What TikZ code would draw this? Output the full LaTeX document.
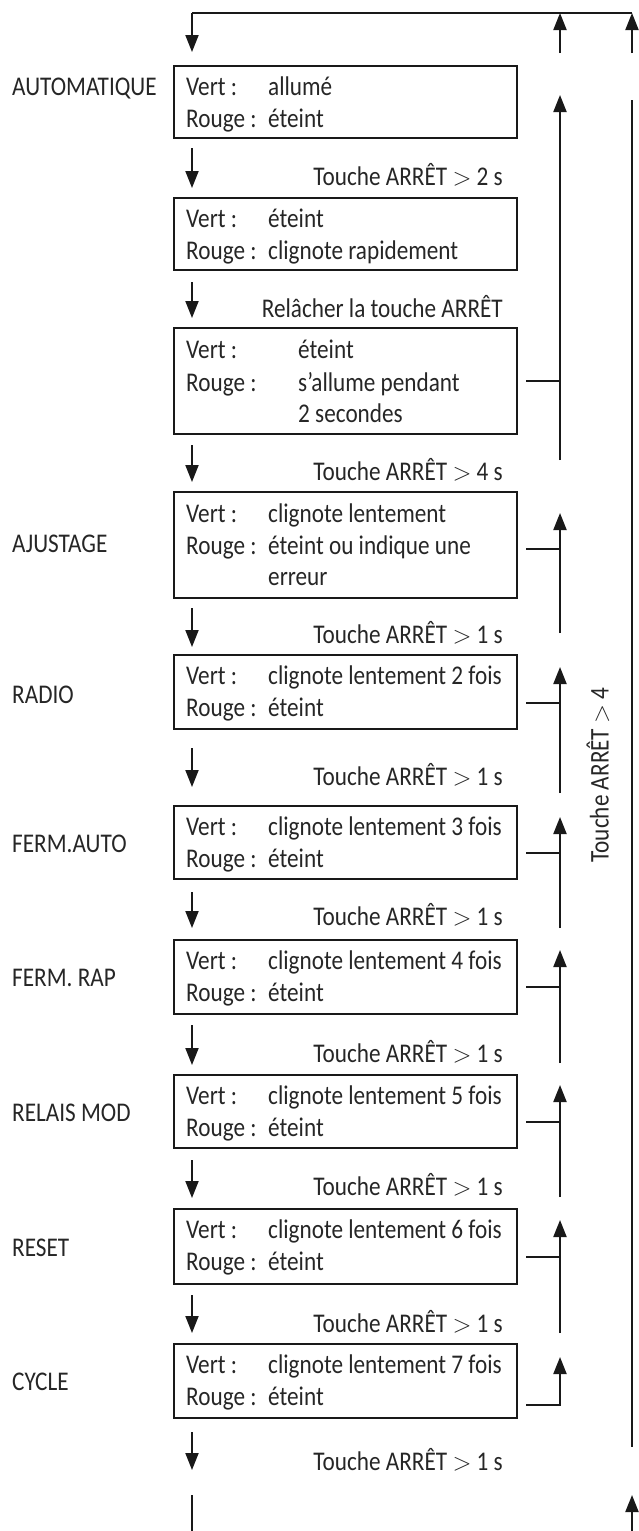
\documentclass[tikz,border=0pt]{standalone}
\usepackage{fontspec}
\setmainfont{Carlito}[FakeStretch=0.86]
\usetikzlibrary{arrows.meta}
\newcommand{\gtsym}{\ensuremath{>}}
\begin{document}
\begin{tikzpicture}[x=1pt,y=-1pt,
  ln/.style={line width=2pt,color=black!90},
  arr/.style={line width=2pt,color=black!90,-{Triangle[width=13pt,length=17pt]}},
  box/.style={draw=black!90,line width=2pt,minimum width=343pt,inner sep=0pt,anchor=north west},
  txt/.style={anchor=base west,inner sep=0pt,text=black!85,font=\fontsize{27}{30}\selectfont},
  lbl/.style={anchor=base east,inner sep=0pt,text=black!85,font=\fontsize{27}{30}\selectfont},
  side/.style={anchor=base west,inner sep=0pt,text=black!85,font=\fontsize{27}{30}\selectfont}
]
\useasboundingbox (0,0) rectangle (638,1531);

% ---------- boxes ----------
\node[box,minimum height=72pt] (b1) at (173,65) {};
\node[box,minimum height=72pt] (b2) at (173,197) {};
\node[box,minimum height=106pt] (b3) at (173,327) {};
\node[box,minimum height=106pt] (b4) at (173,491) {};
\node[box,minimum height=74pt] (b5) at (173,654) {};
\node[box,minimum height=73pt] (b6) at (173,805) {};
\node[box,minimum height=74pt] (b7) at (173,939) {};
\node[box,minimum height=73pt] (b8) at (173,1074) {};
\node[box,minimum height=75pt] (b9) at (173,1208) {};
\node[box,minimum height=74pt] (b10) at (173,1343) {};

% ---------- box texts ----------
\node[txt] (b1a) at (186,95) {Vert :};   \node[txt] (b1b) at (268,95) {allumé};
\node[txt] (b1c) at (186,127) {Rouge :}; \node[txt] (b1d) at (268,127) {éteint};

\node[txt] (b2a) at (186,227) {Vert :};   \node[txt] (b2b) at (268,227) {éteint};
\node[txt] (b2c) at (186,259) {Rouge :}; \node[txt] (b2d) at (268,259) {clignote rapidement};

\node[txt] (b3a) at (186,358) {Vert :};   \node[txt] (b3b) at (298,358) {éteint};
\node[txt] (b3c) at (186,391) {Rouge :}; \node[txt] (b3d) at (298,391) {s’allume pendant};
\node[txt] (b3e) at (298,422) {2 secondes};

\node[txt] (b4a) at (186,522) {Vert :};   \node[txt] (b4b) at (268,522) {clignote lentement};
\node[txt] (b4c) at (186,554) {Rouge :}; \node[txt] (b4d) at (268,554) {éteint ou indique une};
\node[txt] (b4e) at (268,585) {erreur};

\node[txt] (b5a) at (186,684) {Vert :};   \node[txt] (b5b) at (268,684) {clignote lentement 2 fois};
\node[txt] (b5c) at (186,716) {Rouge :}; \node[txt] (b5d) at (268,716) {éteint};

\node[txt] (b6a) at (186,835) {Vert :};   \node[txt] (b6b) at (268,835) {clignote lentement 3 fois};
\node[txt] (b6c) at (186,867) {Rouge :}; \node[txt] (b6d) at (268,867) {éteint};

\node[txt] (b7a) at (186,969) {Vert :};   \node[txt] (b7b) at (268,969) {clignote lentement 4 fois};
\node[txt] (b7c) at (186,1001) {Rouge :}; \node[txt] (b7d) at (268,1001) {éteint};

\node[txt] (b8a) at (186,1104) {Vert :};   \node[txt] (b8b) at (268,1104) {clignote lentement 5 fois};
\node[txt] (b8c) at (186,1136) {Rouge :}; \node[txt] (b8d) at (268,1136) {éteint};

\node[txt] (b9a) at (186,1238) {Vert :};   \node[txt] (b9b) at (268,1238) {clignote lentement 6 fois};
\node[txt] (b9c) at (186,1270) {Rouge :}; \node[txt] (b9d) at (268,1270) {éteint};

\node[txt] (b10a) at (186,1373) {Vert :};   \node[txt] (b10b) at (268,1373) {clignote lentement 7 fois};
\node[txt] (b10c) at (186,1405) {Rouge :}; \node[txt] (b10d) at (268,1405) {éteint};

% ---------- side labels ----------
\node[side] (s1) at (12,95) {AUTOMATIQUE};
\node[side] (s4) at (12,552) {AJUSTAGE};
\node[side] (s5) at (12,703) {RADIO};
\node[side] (s6) at (12,852) {FERM.AUTO};
\node[side] (s7) at (12,986) {FERM. RAP};
\node[side] (s8) at (12,1121) {RELAIS MOD};
\node[side] (s9) at (12,1256) {RESET};
\node[side] (s10) at (12,1390) {CYCLE};

% ---------- transition labels ----------
\node[lbl] (t2) at (503,185) {Touche ARRÊT \gtsym{} 2 s};
\node[lbl] (t3) at (503,317) {Relâcher la touche ARRÊT};
\node[lbl] (t4) at (503,480) {Touche ARRÊT \gtsym{} 4 s};
\node[lbl] (t5) at (503,643) {Touche ARRÊT \gtsym{} 1 s};
\node[lbl] (t6) at (503,785) {Touche ARRÊT \gtsym{} 1 s};
\node[lbl] (t7) at (503,925) {Touche ARRÊT \gtsym{} 1 s};
\node[lbl] (t8) at (503,1062) {Touche ARRÊT \gtsym{} 1 s};
\node[lbl] (t9) at (503,1195) {Touche ARRÊT \gtsym{} 1 s};
\node[lbl] (t10) at (503,1332) {Touche ARRÊT \gtsym{} 1 s};
\node[lbl] (t11) at (503,1470) {Touche ARRÊT \gtsym{} 1 s};
\node[inner sep=0pt,text=black!85,font=\fontsize{27}{30}\selectfont,rotate=90] (t4r) at (598,775) {Touche ARRÊT \gtsym{} 4};

% ---------- top return ----------
\coordinate (tl) at (192,13);
\coordinate (tm) at (560,13);
\coordinate (tr) at (632,13);
\coordinate (tld) at (192,52);
\coordinate (tmu) at (560,53);
\coordinate (tru) at (632,53);
\draw[ln] (tl) -- (tr);
\draw[arr] (tl) -- (tld);
\draw[arr] (tmu) -- (tm);
\draw[arr] (tru) -- (tr);

% ---------- down arrows ----------
\foreach \n/\ys/\ye in {d1/148/188, d2/282/318, d3/445/482, d4/608/647, d5/748/787, d6/892/928, d7/1025/1065, d8/1160/1198, d9/1295/1333, d10/1432/1470}{
  \coordinate (\n s) at (192,\ys);
  \coordinate (\n e) at (192,\ye);
  \draw[arr] (\n s) -- (\n e);
}
\coordinate (cbs) at (192,1495);
\coordinate (cbe) at (192,1533);
\draw[ln] (cbs) -- (cbe);

% ---------- return paths (middle column) ----------
\foreach \n/\ys/\ye/\st in {r3/460/95/381, r4/633/513/549, r5/793/667/703, r6/928/817/853, r7/1063/950/987, r8/1197/1085/1122, r9/1333/1220/1257}{
  \coordinate (\n s) at (560,\ys);
  \coordinate (\n e) at (560,\ye);
  \coordinate (\n a) at (526,\st);
  \coordinate (\n b) at (560,\st);
  \draw[arr] (\n s) -- (\n e);
  \draw[ln] (\n a) -- (\n b);
}
\coordinate (r10a) at (526,1405);
\coordinate (r10b) at (560,1405);
\coordinate (r10e) at (560,1357);
\draw[arr] (r10a) -- (r10b) -- (r10e);

% ---------- right column ----------
\coordinate (rl1) at (632,100);
\coordinate (rl2) at (632,1447);
\draw[ln] (rl1) -- (rl2);
\coordinate (rbs) at (632,1533);
\coordinate (rbe) at (632,1495);
\draw[arr] (rbs) -- (rbe);
\end{tikzpicture}
\end{document}
